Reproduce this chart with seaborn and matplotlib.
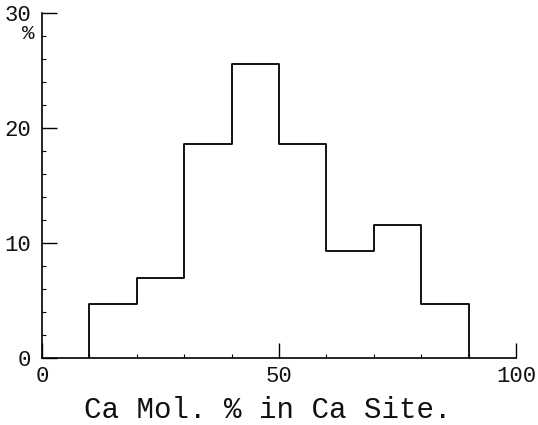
import numpy as np
import pandas as pd
import matplotlib
matplotlib.use("Agg")
import matplotlib.pyplot as plt
import seaborn as sns
from matplotlib.ticker import MultipleLocator

# Ca mole percent bins and the share of analyses in each bin
bin_edges = [10, 20, 30, 40, 50, 60, 70, 80, 90]
bin_pct = [4.7, 7.0, 18.6, 25.6, 18.6, 9.3, 11.6, 4.7]
x_ticks = [0, 50, 100]
y_ticks = [0, 10, 20, 30]

sns.set_theme(style="white")
plt.rcParams["font.family"] = ["Liberation Mono", "DejaVu Sans Mono"]

centers = [(a + b) / 2 for a, b in zip(bin_edges[:-1], bin_edges[1:])]
df = pd.DataFrame({"ca": centers, "pct": bin_pct})

fig = plt.figure(figsize=(5.38, 4.25), dpi=100)
ax = fig.add_axes([42 / 538, 1 - 358 / 425, (516 - 42) / 538, (358 - 13) / 425])

sns.histplot(data=df, x="ca", weights="pct", bins=bin_edges, element="step",
             fill=False, color="black", linewidth=1.3, ax=ax)
# close the outline down to the baseline at both ends
ax.vlines([bin_edges[0], bin_edges[-1]], 0, [bin_pct[0], bin_pct[-1]],
          color="black", linewidth=1.3)

ax.set_xlim(0, 100)
ax.set_ylim(0, 30)
for s in ["top", "right"]:
    ax.spines[s].set_visible(False)
for s in ["left", "bottom"]:
    ax.spines[s].set_color("black")
    ax.spines[s].set_linewidth(1.2)

ax.xaxis.set_major_locator(MultipleLocator(50))
ax.xaxis.set_minor_locator(MultipleLocator(10))
ax.yaxis.set_major_locator(MultipleLocator(10))
ax.yaxis.set_minor_locator(MultipleLocator(2))
ax.tick_params(axis="both", which="major", direction="in", length=11, width=1.0,
               color="black", labelsize=16, labelcolor="#111111")
ax.tick_params(axis="both", which="minor", direction="in", length=3, width=0.8,
               color="black")
ax.tick_params(axis="x", which="both", bottom=True, pad=6)
ax.tick_params(axis="y", which="both", left=True, pad=8)
ax.set_xticks(x_ticks)
ax.set_yticks(y_ticks)
ax.set_xticklabels([str(v) for v in x_ticks])
ax.set_yticklabels([str(v) for v in y_ticks])

ax.set_xlabel("")
ax.set_ylabel("")
fig.text(268 / 538, 1 - 410 / 425, "Ca Mol. % in Ca Site.", ha="center",
         va="center", fontsize=21, color="#111111")
ax.text(-0.03, 0.94, "%", transform=ax.transAxes, ha="center", va="center",
        fontsize=15, color="#111111")

fig.savefig("out.png", dpi=100, facecolor="white")
